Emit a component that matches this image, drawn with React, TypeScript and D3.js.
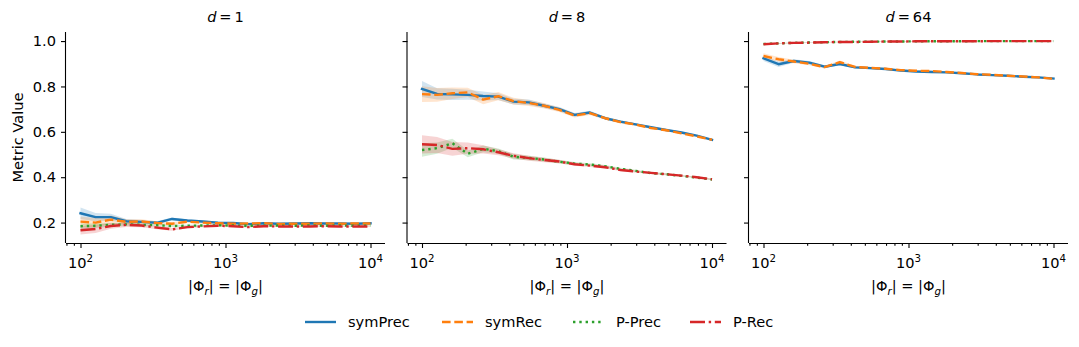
import React, { useEffect, useRef } from "react";
import * as d3 from "d3";

// set sizes (log spaced, 20 steps from 1e2 to 1e4)
const sizes = [100, 127, 162, 207, 264, 336, 428, 546, 695, 886, 1129, 1438, 1833, 2336, 2976, 3793, 4833, 6158, 7848, 10000];
const dims = ["1", "8", "64"];
const seriesNames = ["symPrec", "symRec", "P-Prec", "P-Rec"];
const colors = ["#1f77b4", "#ff7f0e", "#2ca02c", "#d62728"];
const yTicks = [0.2, 0.4, 0.6, 0.8, 1.0];
const xTicks = [100, 1000, 10000];
const xTickExp = ["2", "3", "4"];

// d = 1
const d1SymPrec = [0.241, 0.224, 0.224, 0.206, 0.203, 0.199, 0.216, 0.209, 0.205, 0.2, 0.198, 0.193, 0.197, 0.195, 0.196, 0.197, 0.196, 0.196, 0.195, 0.197];
const d1SymRec = [0.204, 0.2, 0.213, 0.203, 0.205, 0.198, 0.195, 0.204, 0.2, 0.197, 0.195, 0.196, 0.197, 0.194, 0.195, 0.195, 0.196, 0.195, 0.196, 0.196];
const d1PPrec = [0.184, 0.186, 0.19, 0.192, 0.19, 0.188, 0.185, 0.186, 0.187, 0.188, 0.187, 0.186, 0.186, 0.187, 0.186, 0.187, 0.186, 0.187, 0.186, 0.187];
const d1PRec = [0.166, 0.172, 0.185, 0.19, 0.187, 0.178, 0.17, 0.18, 0.183, 0.186, 0.184, 0.18, 0.184, 0.183, 0.183, 0.183, 0.184, 0.183, 0.183, 0.183];
const d1SymPrecCi = [0.025, 0.018, 0.015, 0.01, 0.008, 0.007, 0.006, 0.005, 0.005, 0.004, 0.004, 0.004, 0.003, 0.003, 0.003, 0.003, 0.003, 0.002, 0.002, 0.002];
const d1SymRecCi = [0.022, 0.02, 0.018, 0.012, 0.01, 0.008, 0.007, 0.006, 0.005, 0.005, 0.004, 0.004, 0.003, 0.003, 0.003, 0.003, 0.003, 0.002, 0.002, 0.002];
const d1PPrecCi = [0.012, 0.01, 0.008, 0.007, 0.006, 0.005, 0.005, 0.004, 0.004, 0.003, 0.003, 0.003, 0.003, 0.002, 0.002, 0.002, 0.002, 0.002, 0.002, 0.002];
const d1PRecCi = [0.018, 0.018, 0.012, 0.009, 0.008, 0.007, 0.006, 0.005, 0.004, 0.004, 0.004, 0.003, 0.003, 0.003, 0.002, 0.002, 0.002, 0.002, 0.002, 0.002];

// d = 8
const d8SymPrec = [0.789, 0.767, 0.765, 0.763, 0.758, 0.755, 0.733, 0.73, 0.715, 0.7, 0.675, 0.685, 0.66, 0.645, 0.633, 0.62, 0.608, 0.597, 0.583, 0.565];
const d8SymRec = [0.766, 0.763, 0.77, 0.774, 0.742, 0.757, 0.735, 0.727, 0.715, 0.697, 0.672, 0.682, 0.66, 0.643, 0.632, 0.617, 0.607, 0.593, 0.58, 0.565];
const d8PPrec = [0.52, 0.528, 0.55, 0.503, 0.525, 0.515, 0.49, 0.485, 0.478, 0.468, 0.46, 0.456, 0.448, 0.437, 0.428, 0.418, 0.413, 0.406, 0.398, 0.39];
const d8PRec = [0.545, 0.542, 0.525, 0.528, 0.523, 0.51, 0.494, 0.484, 0.476, 0.469, 0.457, 0.451, 0.444, 0.432, 0.425, 0.419, 0.413, 0.407, 0.4, 0.391];
const d8SymPrecCi = [0.035, 0.025, 0.025, 0.022, 0.02, 0.015, 0.013, 0.012, 0.01, 0.009, 0.008, 0.008, 0.006, 0.006, 0.005, 0.005, 0.004, 0.004, 0.003, 0.003];
const d8SymRecCi = [0.035, 0.03, 0.025, 0.02, 0.02, 0.018, 0.015, 0.013, 0.012, 0.01, 0.009, 0.008, 0.007, 0.006, 0.005, 0.005, 0.004, 0.004, 0.003, 0.003];
const d8PPrecCi = [0.03, 0.025, 0.02, 0.015, 0.015, 0.012, 0.012, 0.01, 0.009, 0.008, 0.007, 0.006, 0.006, 0.005, 0.005, 0.004, 0.004, 0.003, 0.003, 0.003];
const d8PRecCi = [0.04, 0.035, 0.03, 0.025, 0.018, 0.013, 0.012, 0.011, 0.01, 0.008, 0.007, 0.006, 0.006, 0.005, 0.005, 0.004, 0.004, 0.003, 0.003, 0.003];

// d = 64
const d64SymPrec = [0.924, 0.898, 0.912, 0.905, 0.887, 0.899, 0.884, 0.881, 0.877, 0.87, 0.866, 0.864, 0.862, 0.858, 0.853, 0.85, 0.847, 0.843, 0.84, 0.835];
const d64SymRec = [0.934, 0.92, 0.91, 0.9, 0.885, 0.907, 0.886, 0.882, 0.878, 0.872, 0.869, 0.868, 0.864, 0.859, 0.854, 0.851, 0.847, 0.844, 0.84, 0.834];
const d64PPrec = [0.987, 0.99, 0.992, 0.994, 0.995, 0.996, 0.997, 0.997, 0.998, 0.998, 0.999, 0.999, 0.999, 0.999, 1.0, 1.0, 1.0, 1.0, 1.0, 1.0];
const d64PRec = [0.986, 0.99, 0.992, 0.993, 0.995, 0.996, 0.996, 0.997, 0.998, 0.998, 0.999, 0.999, 0.999, 0.999, 0.999, 1.0, 1.0, 1.0, 1.0, 1.0];
const d64SymPrecCi = [0.012, 0.012, 0.008, 0.007, 0.006, 0.006, 0.005, 0.005, 0.004, 0.004, 0.004, 0.003, 0.003, 0.003, 0.003, 0.002, 0.002, 0.002, 0.002, 0.002];
const d64SymRecCi = [0.012, 0.01, 0.008, 0.007, 0.006, 0.007, 0.005, 0.005, 0.004, 0.004, 0.003, 0.003, 0.003, 0.003, 0.002, 0.002, 0.002, 0.002, 0.002, 0.002];
const d64PPrecCi = [0.002, 0.002, 0.002, 0.001, 0.001, 0.001, 0.001, 0.001, 0.001, 0.001, 0.001, 0.001, 0.001, 0.001, 0.001, 0.001, 0.001, 0.001, 0.001, 0.001];
const d64PRecCi = [0.002, 0.002, 0.002, 0.001, 0.001, 0.001, 0.001, 0.001, 0.001, 0.001, 0.001, 0.001, 0.001, 0.001, 0.001, 0.001, 0.001, 0.001, 0.001, 0.001];

const panelValues = [
  [d1SymPrec, d1SymRec, d1PPrec, d1PRec],
  [d8SymPrec, d8SymRec, d8PPrec, d8PRec],
  [d64SymPrec, d64SymRec, d64PPrec, d64PRec],
];
const panelCi = [
  [d1SymPrecCi, d1SymRecCi, d1PPrecCi, d1PRecCi],
  [d8SymPrecCi, d8SymRecCi, d8PPrecCi, d8PRecCi],
  [d64SymPrecCi, d64SymRecCi, d64PPrecCi, d64PRecCi],
];

const FONT = "DejaVu Sans, sans-serif";
const FS = 14.6;
const LW = 2.4;
const dashes = [null, "8.6,3.7", "2.4,3.9", "15,3.7,2.4,3.7"];

function drawChart(node: SVGSVGElement) {
  const svg = d3.select(node);
  svg.selectAll("*").remove();

  const top = 32;
  const bottom = 243;
  const left0 = 66;
  const width = 319;
  const gap = 22.5;

  const y = d3.scaleLinear().domain([0.11, 1.04]).range([bottom, top]);
  const x = d3
    .scaleLog()
    .domain([Math.pow(10, 1.9), Math.pow(10, 4.1)])
    .range([0, width]);

  const minor: number[] = [];
  [10, 100, 1000, 10000].forEach((b) => {
    for (let k = 2; k <= 9; k++) {
      const v = b * k;
      if (v >= x.domain()[0] && v <= x.domain()[1]) minor.push(v);
    }
  });

  dims.forEach((d, pi) => {
    const g = svg
      .append("g")
      .attr("transform", "translate(" + (left0 + pi * (width + gap)) + ",0)");

    // bands
    seriesNames.forEach((name, si) => {
      const vals = panelValues[pi][si];
      const ci = panelCi[pi][si];
      const area = d3
        .area<number>()
        .x((_, i) => x(sizes[i]))
        .y0((v, i) => y(v - ci[i]))
        .y1((v, i) => y(v + ci[i]));
      g.append("path")
        .datum(vals)
        .attr("fill", colors[si])
        .attr("fill-opacity", 0.2)
        .attr("d", area);
    });

    // lines
    seriesNames.forEach((name, si) => {
      const vals = panelValues[pi][si];
      const line = d3
        .line<number>()
        .x((_, i) => x(sizes[i]))
        .y((v) => y(v));
      const p = g
        .append("path")
        .datum(vals)
        .attr("fill", "none")
        .attr("stroke", colors[si])
        .attr("stroke-width", LW)
        .attr("stroke-linejoin", "round")
        .attr("stroke-linecap", si === 0 ? "square" : "butt")
        .attr("d", line);
      if (dashes[si]) p.attr("stroke-dasharray", dashes[si] as string);
    });

    // x axis
    const xAxis = d3.axisBottom(x).tickValues(xTicks).tickSize(5).tickFormat(() => "");
    const xMinor = d3.axisBottom(x).tickValues(minor).tickSize(2.8).tickFormat(() => "");
    const gx = g.append("g").attr("transform", "translate(0," + bottom + ")").call(xAxis);
    g.append("g").attr("transform", "translate(0," + bottom + ")").call(xMinor).select(".domain").remove();
    gx.select(".domain").attr("d", "M0,0.5H" + width);

    xTicks.forEach((t, ti) => {
      const txt = g
        .append("text")
        .attr("x", x(t))
        .attr("y", bottom + 25)
        .attr("text-anchor", "middle")
        .style("font-family", FONT)
        .style("font-size", FS + "px");
      txt.append("tspan").text("10");
      txt
        .append("tspan")
        .attr("dy", -6)
        .style("font-size", FS * 0.7 + "px")
        .text(xTickExp[ti]);
    });

    // y axis
    const yAxis = d3.axisLeft(y).tickValues(yTicks).tickSize(5).tickFormat(pi === 0 ? d3.format(".1f") : () => "");
    const gy = g.append("g").call(yAxis);
    gy.select(".domain").attr("d", "M-0.5," + bottom + "V" + top);

    g.selectAll(".tick line").attr("stroke", "#000").attr("stroke-width", 1.1);
    g.selectAll(".domain").attr("stroke", "#000").attr("stroke-width", 1.1);
    gy.selectAll(".tick text")
      .style("font-family", FONT)
      .style("font-size", FS + "px")
      .attr("x", -10)
      .attr("fill", "#000");

    // x label |Φr| = |Φg|
    const xl = g
      .append("text")
      .attr("x", width / 2)
      .attr("y", bottom + 48)
      .attr("text-anchor", "middle")
      .style("font-family", FONT)
      .style("font-size", FS + "px");
    xl.append("tspan").text("|Φ");
    xl.append("tspan").attr("dy", 3.5).style("font-style", "italic").style("font-size", FS * 0.7 + "px").text("r");
    xl.append("tspan").attr("dy", -3.5).text("| = |Φ");
    xl.append("tspan").attr("dy", 3.5).style("font-style", "italic").style("font-size", FS * 0.7 + "px").text("g");
    xl.append("tspan").attr("dy", -3.5).text("|");

    // title
    const tt = g
      .append("text")
      .attr("x", width / 2)
      .attr("y", 22)
      .attr("text-anchor", "middle")
      .style("font-family", FONT)
      .style("font-size", FS + "px");
    tt.append("tspan").style("font-style", "italic").text("d");
    tt.append("tspan").text("\u2009=\u2009" + d);
  });

  // y label
  svg
    .append("text")
    .attr("transform", "translate(23," + (top + bottom) / 2 + ") rotate(-90)")
    .attr("text-anchor", "middle")
    .style("font-family", FONT)
    .style("font-size", FS + "px")
    .text("Metric Value");

  // legend
  const legendX = [305, 442, 573, 690];
  const legendY = 322;
  seriesNames.forEach((name, si) => {
    const lg = svg.append("g").attr("transform", "translate(" + legendX[si] + "," + legendY + ")");
    const l = lg
      .append("line")
      .attr("x1", 0)
      .attr("x2", 31)
      .attr("y1", 0)
      .attr("y2", 0)
      .attr("stroke", colors[si])
      .attr("stroke-width", LW)
      .attr("stroke-linecap", "butt");
    if (dashes[si]) l.attr("stroke-dasharray", dashes[si] as string);
    lg.append("text")
      .attr("x", 43)
      .attr("y", 0)
      .attr("dy", "0.36em")
      .style("font-family", FONT)
      .style("font-size", FS + "px")
      .text(name);
  });
}

export default function App() {
  const ref = useRef<SVGSVGElement>(null);
  useEffect(() => {
    if (ref.current) drawChart(ref.current);
  }, []);
  return (
    <svg
      ref={ref}
      width={1079}
      height={347}
      style={{ position: "absolute", left: 0, top: 0, background: "#fff" }}
    />
  );
}
